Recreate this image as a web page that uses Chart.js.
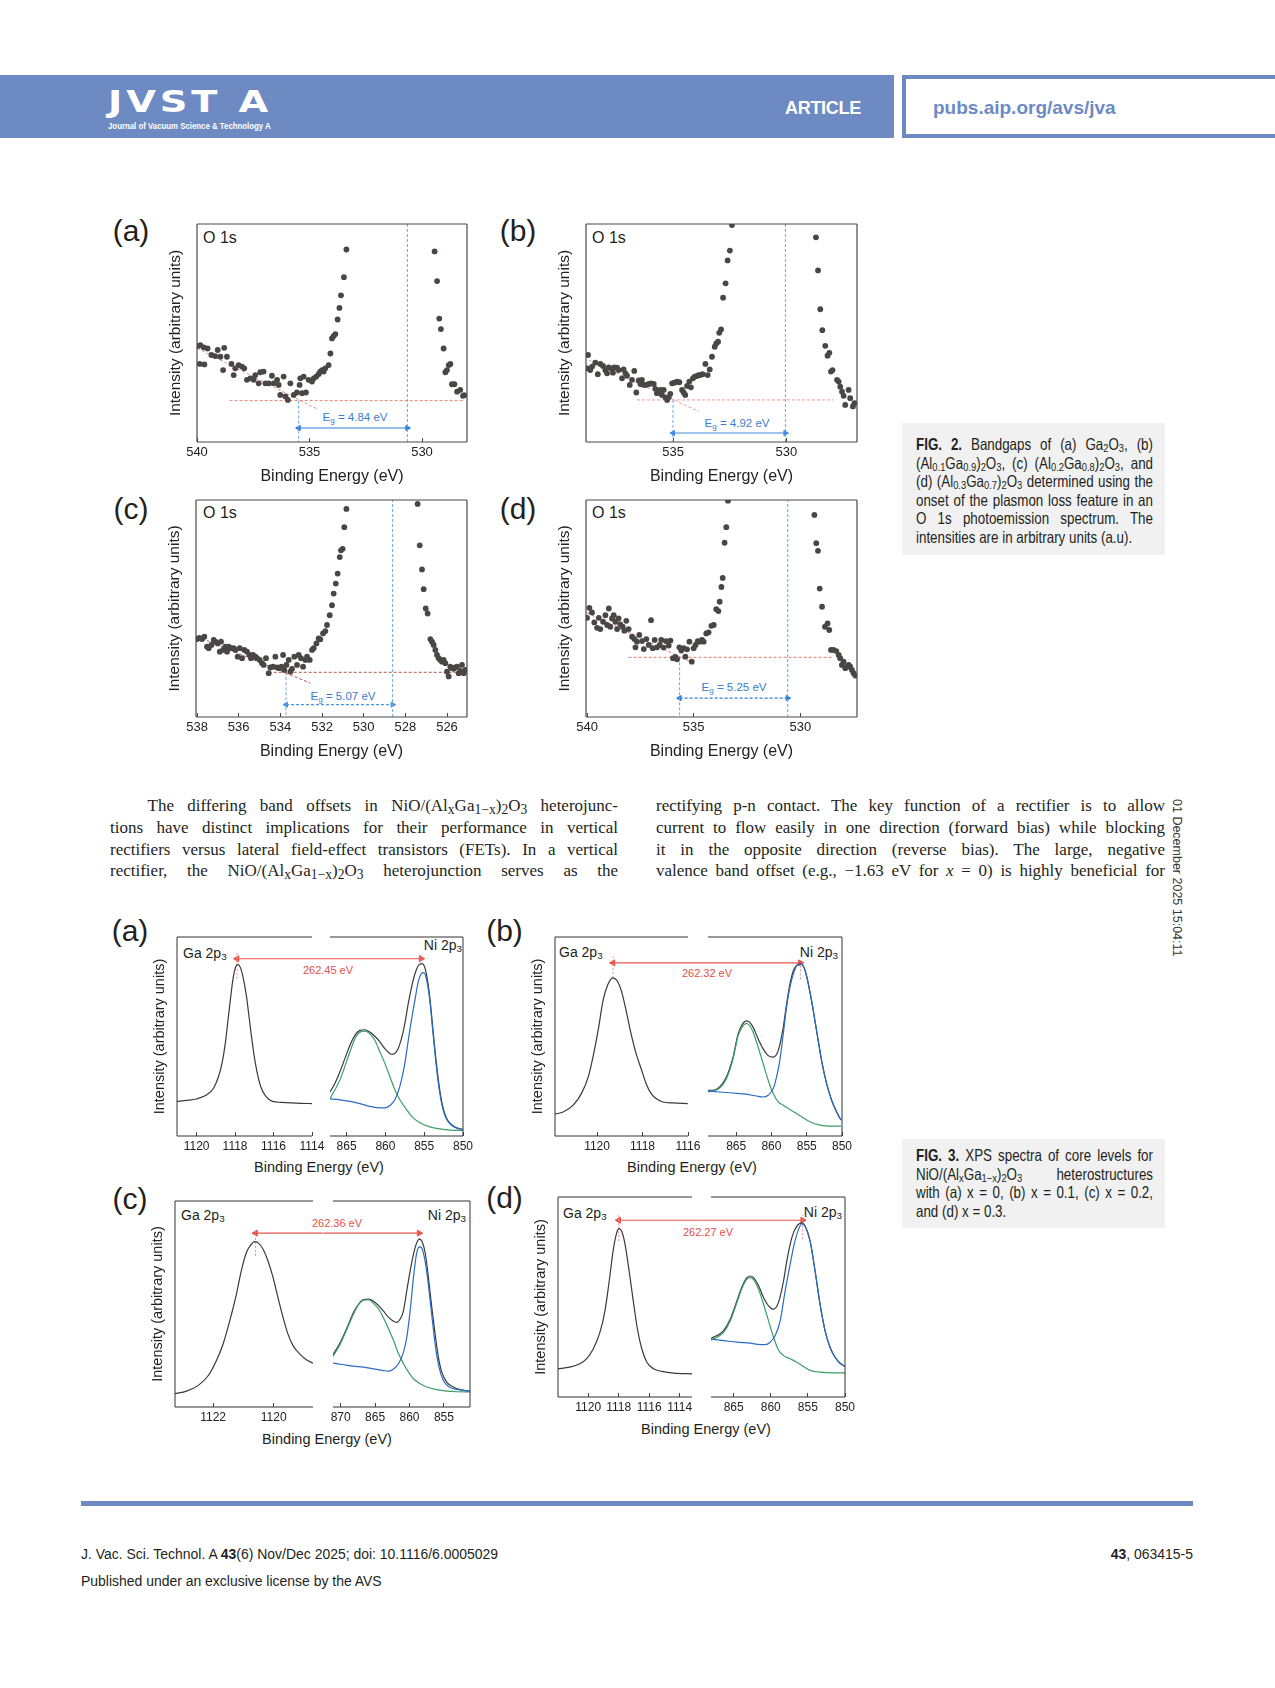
<!DOCTYPE html>
<html>
<head>
<meta charset="utf-8">
<script src="https://cdn.jsdelivr.net/npm/chart.js@4.4.0/dist/chart.umd.min.js"></script>
<style>
body { margin: 0; background: #fff; }
#page { position: relative; width: 1275px; height: 1688px; overflow: hidden; font-family: 'Liberation Sans', Arial, sans-serif; color: #231f20; }
.abs { position: absolute; white-space: nowrap; }
.c { transform: translate(-50%, -50%); }
.m { transform: translateY(-50%); }
.r { transform: translate(-100%, -50%); }
canvas { position: absolute; }
.logo { font-family: 'DejaVu Sans', sans-serif; font-weight: bold; font-size: 30px; color: #fff; letter-spacing: 3px; transform: translateY(-50%) scaleX(1.28); transform-origin: left center; }
.logosub { font-weight: bold; font-size: 9px; color: #fff; transform: translateY(-50%) scaleX(0.87); transform-origin: left center; }
.art { font-size: 18px; font-weight: bold; color: #fff; letter-spacing: -0.3px; }
.url { font-size: 19px; font-weight: bold; color: #6d8ac3; }
.plab { font-size: 30px; }
.o1s { font-size: 16px; }
.eg { font-size: 11.5px; color: #3b7dd0; }
.ev { font-size: 11px; color: #e2504a; }
.core { font-size: 14px; }
.xt { font-size: 14.5px; }
sub { font-size: 70%; vertical-align: -0.25em; line-height: 0; }
.cap { font-size: 16.5px; width: 292.6px; text-align: justify; text-align-last: justify; transform: translateY(-50%) scaleX(0.81); transform-origin: left center; }
.cap.last { text-align-last: left; }
.capbox { background: #f1f1f1; }
.bodyt { font-family: 'Liberation Serif', 'Times New Roman', serif; font-size: 17px; text-align: justify; text-align-last: justify; }
.bodyt sub { font-size: 80%; }
.foot { font-size: 15.5px; transform: translateY(-50%) scaleX(0.9); transform-origin: left center; }
.foot.r { transform: translate(-100%, -50%) scaleX(0.9); transform-origin: right center; }
.stamp { font-size: 12.5px; writing-mode: vertical-rl; color: #333; }
</style>
</head>
<body>
<div id="page">
  <!-- header -->
  <div class="abs" style="left:0;top:75px;width:894px;height:63px;background:#6d8ac3"></div>
  <div class="abs" style="left:902px;top:75px;width:400px;height:63px;border:4px solid #6d8ac3;box-sizing:border-box;background:#fff"></div>
  <div class="abs logo" style="left:108px;top:100.5px">JVST A</div>
  <div class="abs logosub" style="left:108px;top:126px">Journal of Vacuum Science &amp; Technology A</div>
  <div class="abs art m" style="left:785px;top:108px">ARTICLE</div>
  <div class="abs url m" style="left:933px;top:108px">pubs.aip.org/avs/jva</div>

  <!-- FIG. 2 labels -->
  <div class="abs plab c" style="left:131px;top:231px">(a)</div>
  <div class="abs plab c" style="left:518px;top:231px">(b)</div>
  <div class="abs plab c" style="left:131px;top:509px">(c)</div>
  <div class="abs plab c" style="left:518px;top:509px">(d)</div>
  <div class="abs o1s m" style="left:203px;top:238px">O 1s</div>
  <div class="abs o1s m" style="left:592px;top:238px">O 1s</div>
  <div class="abs o1s m" style="left:203px;top:513px">O 1s</div>
  <div class="abs o1s m" style="left:592px;top:513px">O 1s</div>
  <div class="abs eg c" style="left:355px;top:417px">E<sub>g</sub> = 4.84 eV</div>
  <div class="abs eg c" style="left:737px;top:423px">E<sub>g</sub> = 4.92 eV</div>
  <div class="abs eg c" style="left:343px;top:696px">E<sub>g</sub> = 5.07 eV</div>
  <div class="abs eg c" style="left:734px;top:687px">E<sub>g</sub> = 5.25 eV</div>

  <!-- FIG. 2 caption -->
  <div class="abs capbox" style="left:902px;top:423px;width:263px;height:132px"></div>
  <div class="abs cap" style="left:916px;top:444px"><b>FIG. 2.</b> Bandgaps of (a) Ga<sub>2</sub>O<sub>3</sub>, (b)</div>
  <div class="abs cap" style="left:916px;top:462.6px">(Al<sub>0.1</sub>Ga<sub>0.9</sub>)<sub>2</sub>O<sub>3</sub>, (c) (Al<sub>0.2</sub>Ga<sub>0.8</sub>)<sub>2</sub>O<sub>3</sub>, and</div>
  <div class="abs cap" style="left:916px;top:481.2px">(d) (Al<sub>0.3</sub>Ga<sub>0.7</sub>)<sub>2</sub>O<sub>3</sub> determined using the</div>
  <div class="abs cap" style="left:916px;top:499.8px">onset of the plasmon loss feature in an</div>
  <div class="abs cap" style="left:916px;top:518.4px">O 1s photoemission spectrum. The</div>
  <div class="abs cap last" style="left:916px;top:537px">intensities are in arbitrary units (a.u).</div>

  <!-- body text -->
  <div class="abs bodyt m" style="left:147.5px;top:805.5px;width:470.5px">The differing band offsets in NiO/(Al<sub>x</sub>Ga<sub>1−x</sub>)<sub>2</sub>O<sub>3</sub> heterojunc-</div>
  <div class="abs bodyt m" style="left:110px;top:827.6px;width:508px">tions have distinct implications for their performance in vertical</div>
  <div class="abs bodyt m" style="left:110px;top:849.7px;width:508px;word-spacing:-1px">rectifiers versus lateral field-effect transistors (FETs). In a vertical</div>
  <div class="abs bodyt m" style="left:110px;top:871.3px;width:508px">rectifier, the NiO/(Al<sub>x</sub>Ga<sub>1−x</sub>)<sub>2</sub>O<sub>3</sub> heterojunction serves as the</div>
  <div class="abs bodyt m" style="left:656px;top:805.5px;width:509px">rectifying p-n contact. The key function of a rectifier is to allow</div>
  <div class="abs bodyt m" style="left:656px;top:827.6px;width:509px">current to flow easily in one direction (forward bias) while blocking</div>
  <div class="abs bodyt m" style="left:656px;top:849.7px;width:509px">it in the opposite direction (reverse bias). The large, negative</div>
  <div class="abs bodyt m" style="left:656px;top:871.3px;width:509px">valence band offset (e.g., −1.63 eV for <i>x</i> = 0) is highly beneficial for</div>
  <div class="abs stamp" style="left:1170px;top:799px">01 December 2025 15:04:11</div>

  <!-- FIG. 3 labels -->
  <div class="abs plab c" style="left:130px;top:931px">(a)</div>
  <div class="abs plab c" style="left:504.5px;top:931px">(b)</div>
  <div class="abs plab c" style="left:130px;top:1199px">(c)</div>
  <div class="abs plab c" style="left:504.5px;top:1198px">(d)</div>
  <div class="abs core m" style="left:183px;top:953px">Ga 2p<sub>3</sub></div>
  <div class="abs core r" style="left:462px;top:945px">Ni 2p<sub>3</sub></div>
  <div class="abs core m" style="left:559px;top:952px">Ga 2p<sub>3</sub></div>
  <div class="abs core r" style="left:838px;top:952px">Ni 2p<sub>3</sub></div>
  <div class="abs core m" style="left:181px;top:1215px">Ga 2p<sub>3</sub></div>
  <div class="abs core r" style="left:466px;top:1215px">Ni 2p<sub>3</sub></div>
  <div class="abs core m" style="left:563px;top:1213px">Ga 2p<sub>3</sub></div>
  <div class="abs core r" style="left:842px;top:1212px">Ni 2p<sub>3</sub></div>
  <div class="abs ev c" style="left:328px;top:970px">262.45 eV</div>
  <div class="abs ev c" style="left:707px;top:973px">262.32 eV</div>
  <div class="abs ev c" style="left:337px;top:1223px">262.36 eV</div>
  <div class="abs ev c" style="left:708px;top:1232px">262.27 eV</div>
  <div class="abs xt c" style="left:319px;top:1167px">Binding Energy (eV)</div>
  <div class="abs xt c" style="left:692px;top:1167px">Binding Energy (eV)</div>
  <div class="abs xt c" style="left:327px;top:1439px">Binding Energy (eV)</div>
  <div class="abs xt c" style="left:706px;top:1429px">Binding Energy (eV)</div>

  <!-- FIG. 3 caption -->
  <div class="abs capbox" style="left:902px;top:1139px;width:263px;height:89px"></div>
  <div class="abs cap" style="left:916px;top:1155px"><b>FIG. 3.</b> XPS spectra of core levels for</div>
  <div class="abs cap" style="left:916px;top:1173.6px">NiO/(Al<sub>x</sub>Ga<sub>1−x</sub>)<sub>2</sub>O<sub>3</sub> heterostructures</div>
  <div class="abs cap" style="left:916px;top:1192.2px">with (a) x = 0, (b) x = 0.1, (c) x = 0.2,</div>
  <div class="abs cap last" style="left:916px;top:1210.8px">and (d) x = 0.3.</div>

  <!-- footer -->
  <div class="abs" style="left:81px;top:1501px;width:1112px;height:5px;background:#6d8ac3"></div>
  <div class="abs foot" style="left:81px;top:1554px">J. Vac. Sci. Technol. A <b>43</b>(6) Nov/Dec 2025; doi: 10.1116/6.0005029</div>
  <div class="abs foot" style="left:81px;top:1581px">Published under an exclusive license by the AVS</div>
  <div class="abs foot r" style="left:1193px;top:1554px"><b>43</b>, 063415-5</div>
</div>

<script>
// -- Data --
// FIG. 2: O 1s spectra, [binding energy (eV), intensity (% of frame height)]
const o1sA = [
  [539.97,44.0],[539.85,44.4],[539.70,43.4],[539.53,42.9],[539.36,39.9],[539.19,39.4],[539.08,42.2],[538.96,39.1],[538.79,43.2],[538.67,39.1],
  [539.88,35.8],[539.67,35.6],[538.84,33.0],[538.47,35.8],[538.37,30.7],[538.30,33.8],[538.15,35.3],[538.00,34.6],[537.90,33.8],[537.78,28.5],
  [537.63,29.2],[537.48,28.5],[537.41,30.7],[537.26,26.9],[537.19,32.0],[537.04,32.3],[536.96,26.9],[536.81,26.9],[536.67,30.4],[536.59,26.9],
  [536.44,28.5],[536.37,26.2],[536.30,21.6],[536.15,30.0],[536.07,20.9],[535.96,19.3],[535.85,26.9],[535.70,21.6],[535.56,22.7],[535.44,26.2],
  [535.41,29.2],[535.33,22.4],[535.26,30.0],[535.16,22.7],[535.04,28.5],[534.89,27.7],[534.81,29.2],[534.70,30.0],[534.59,31.2],[534.52,32.3],
  [534.44,33.0],[534.37,32.3],[534.30,33.8],[534.15,35.3],[534.07,40.6],[534.00,47.5],[533.93,48.6],[533.85,49.5],[533.75,56.2],[533.67,61.5],
  [533.60,67.3],[533.47,75.6],[533.36,88.3],
  [529.44,87.4],[529.33,73.8],[529.23,56.6],[529.16,51.8],[529.04,42.9],[528.96,32.0],[528.89,33.0],[528.81,35.3],[528.74,35.8],[528.67,26.5],
  [528.56,26.5],[528.44,23.1],[528.30,23.9],[528.18,21.2],[528.12,21.5]
];
const o1sB = [
  [538.75,39.9],[538.79,33.8],[538.65,33.0],[538.57,34.6],[538.43,36.4],[538.32,31.1],[538.21,35.8],[538.09,34.9],[537.99,33.0],[537.91,31.5],
  [537.84,34.2],[537.74,33.8],[537.65,31.8],[537.59,34.2],[537.47,34.1],[537.40,33.0],[537.25,29.2],[537.18,33.3],[537.10,31.5],[537.03,30.4],
  [536.91,26.2],[536.81,28.5],[536.71,32.6],[536.62,22.7],[536.51,28.2],[536.44,26.6],[536.37,28.5],[536.29,26.2],[536.18,26.2],[536.07,26.6],
  [535.97,26.9],[535.85,26.6],[535.78,24.4],[535.71,22.4],[535.63,23.1],[535.56,23.9],[535.49,21.6],[535.41,23.9],[535.34,20.5],[535.26,19.3],
  [535.19,20.5],[535.12,22.1],[535.04,26.9],[534.94,27.2],[534.82,27.7],[534.72,27.4],[534.60,23.9],[534.53,22.7],[534.46,21.6],[534.38,25.7],
  [534.28,27.7],[534.21,25.1],[534.12,29.2],[534.04,30.0],[533.94,30.3],[533.87,30.7],[533.79,30.7],[533.69,31.1],[533.57,35.8],[533.47,30.7],
  [533.38,33.3],[533.28,39.1],[533.16,43.7],[533.09,45.2],[533.01,46.0],[532.96,50.1],[532.88,51.6],[532.79,66.2],[532.68,72.8],[532.59,83.3],
  [532.49,87.8],[532.40,99.5],
  [528.69,93.9],[528.60,78.7],[528.50,60.9],[528.41,51.3],[528.28,44.1],[528.18,39.6],[528.10,40.9],[528.03,32.3],[527.96,33.0],[527.76,28.5],
  [527.69,27.7],[527.62,25.4],[527.54,23.1],[527.47,21.2],[527.40,17.0],[527.25,23.9],[527.18,20.1],[527.06,16.3],[526.99,17.8]
];
const o1sC = [
  [538.00,35.9],[537.89,36.5],[537.76,35.9],[537.65,37.0],[537.52,32.4],[537.44,31.7],[537.31,33.2],[537.20,35.5],[537.12,34.7],[537.01,33.9],
  [536.91,30.1],[536.85,34.7],[536.75,30.9],[536.64,32.4],[536.56,30.1],[536.48,32.4],[536.37,31.7],[536.24,31.7],[536.16,30.9],[536.05,27.8],
  [535.95,31.7],[535.84,27.1],[535.73,30.9],[535.60,30.1],[535.49,28.6],[535.41,27.1],[535.31,28.6],[535.20,27.8],[535.12,27.1],[534.99,26.3],
  [534.88,24.8],[534.80,24.0],[534.69,27.1],[534.56,20.2],[534.48,22.8],[534.35,23.2],[534.24,27.8],[534.16,22.8],[534.05,22.5],[533.95,23.2],
  [533.87,28.6],[533.81,21.7],[533.71,24.0],[533.60,26.3],[533.52,20.9],[533.44,22.2],[533.33,27.8],[533.20,24.0],[533.12,28.6],[533.01,27.1],
  [532.91,23.2],[532.80,26.3],[532.72,27.8],[532.59,26.3],[532.48,30.9],[532.40,31.7],[532.27,33.9],[532.16,36.2],[532.08,35.8],[531.95,38.5],
  [531.84,39.6],[531.76,42.4],[531.63,46.9],[531.52,51.5],[531.44,56.9],[531.34,61.5],[531.25,66.1],[531.15,73.7],[531.09,76.8],[531.01,77.5],
  [530.93,87.5],[530.83,95.9],
  [527.41,98.2],[527.31,79.1],[527.20,68.0],[527.12,58.9],[527.02,50.0],[526.93,47.7],[526.80,35.9],[526.72,34.7],[526.64,33.2],[526.56,30.9],
  [526.48,28.6],[526.40,27.1],[526.32,26.3],[526.24,25.5],[526.16,26.3],[526.08,24.8],[526.00,20.9],[525.92,18.7],[525.84,23.2],[525.76,22.5],
  [525.68,22.2],[525.60,22.9],[525.52,23.2],[525.44,20.2],[525.36,21.3],[525.28,24.0],[525.20,20.2],[525.12,21.7]
];
const o1sD = [
  [540.00,45.7],[539.89,50.3],[539.77,48.2],[539.66,43.6],[539.53,41.1],[539.45,45.7],[539.38,40.5],[539.25,43.9],[539.14,46.9],[539.06,42.4],
  [538.98,50.0],[538.91,41.6],[538.83,45.4],[538.75,46.9],[538.67,43.9],[538.59,40.5],[538.52,45.4],[538.44,42.7],[538.33,41.6],[538.25,39.8],
  [538.16,44.3],[538.05,40.5],[537.89,37.0],[537.78,35.9],[537.66,34.7],[537.73,32.1],[537.55,37.8],[537.42,35.0],[537.34,31.3],[537.22,35.9],
  [537.11,33.2],[537.00,44.6],[536.92,31.7],[536.83,35.5],[536.72,32.1],[536.59,33.2],[536.52,35.5],[536.41,32.0],[536.30,35.0],[536.17,32.9],
  [536.09,35.2],[535.97,27.1],[535.86,27.7],[535.78,26.6],[535.67,32.1],[535.58,30.6],[535.47,31.7],[535.39,27.8],[535.31,31.2],[535.20,34.7],
  [535.09,25.5],[535.00,31.7],[534.91,33.2],[534.81,35.0],[534.72,34.7],[534.61,35.5],[534.53,34.7],[534.41,38.5],[534.30,39.0],[534.17,42.0],
  [534.06,42.4],[533.94,49.7],[533.84,48.8],[533.78,53.1],[533.70,59.9],[533.64,64.1],[533.55,80.3],[533.47,87.5],[533.39,99.7],
  [529.34,93.1],[529.25,80.1],[529.17,76.6],[529.09,59.2],[528.98,50.8],[528.84,41.6],[528.72,43.1],[528.64,40.1],[528.56,30.9],[528.44,30.9],
  [528.31,30.4],[528.20,28.6],[528.13,27.1],[528.05,24.0],[527.97,25.5],[527.89,22.5],[527.81,23.2],[527.73,24.0],[527.66,23.2],[527.58,21.7],
  [527.50,20.2],[527.42,19.1]
];
const fig2Ranges = [[528, 540], [526.88, 538.84], [525.04, 538.05], [527.34, 540.05]];
const fig2Steps = [5, 5, 2, 5];
const fig2BaseY = [19.0, 19.3, 20.6, 27.5];
const fig2BaseFrom = [538.55, 536.59, 534.56, 538.05];
const fig2BaseTo = [528.1, 527.91, 525.04, 528.44];
const fig2Slope = [
  [[539.97, 42.9], [534.67, 15.2]],
  [[538.72, 37.6], [533.87, 14.0]],
  [[537.97, 37.0], [532.56, 15.6]],
  [[540.0, 48.0], [535.16, 25.5]]
];
const fig2Onset = [535.48, 535.0, 533.73, 535.66];
const fig2Edge = [530.65, 530.04, 528.61, 530.59];
const fig2ArrowY = [6.4, 4.1, 5.7, 8.7];

// FIG. 3: Ga 2p3 and Ni 2p3 core levels, [binding energy (eV), intensity (% of frame height)]
const gaA = [[1121.02,17.4],[1120.53,17.9],[1120.00,18.6],[1119.47,20.7],[1119.12,24.0],[1118.86,29.9],[1118.68,36.5],[1118.51,46.4],[1118.39,56.4],[1118.25,68.0],[1118.11,78.8],[1117.98,84.6],[1117.86,86.2],[1117.72,84.6],[1117.58,79.6],[1117.40,69.7],[1117.23,56.4],[1117.05,43.1],[1116.88,33.2],[1116.67,24.9],[1116.40,19.9],[1116.05,17.4],[1115.61,16.9],[1115.09,16.6],[1114.56,16.4],[1114.00,16.3]];
const niEnvA = [[867.14,22.1],[866.50,26.5],[865.86,32.3],[865.21,39.0],[864.57,45.6],[863.93,50.6],[863.29,53.1],[862.64,53.4],[862.00,52.2],[861.36,50.1],[860.71,47.3],[860.07,43.9],[859.43,41.5],[859.08,41.0],[858.78,41.5],[858.36,43.9],[857.93,48.9],[857.50,56.4],[857.07,66.3],[856.64,74.6],[856.21,81.3],[855.79,85.4],[855.36,86.6],[855.06,85.9],[854.71,81.3],[854.28,69.7],[853.86,53.1],[853.43,36.5],[853.00,23.2],[852.57,14.1],[852.14,9.1],[851.50,5.8],[850.86,4.1],[850.00,3.3]];
const niSatA = [[867.14,18.7],[865.86,28.2],[864.57,42.3],[863.93,48.9],[863.29,52.2],[862.64,52.7],[862.00,51.4],[861.36,48.1],[860.71,42.3],[860.07,36.5],[859.43,29.9],[858.78,23.2],[858.14,18.2],[857.28,13.3],[856.43,9.1],[855.36,6.3],[854.28,4.6],[853.00,3.6],[851.50,3.0],[850.00,2.8]];
const niMainA = [[867.14,18.7],[865.86,18.2],[864.57,17.4],[863.29,16.3],[862.00,14.9],[860.71,14.1],[860.07,14.1],[859.43,15.3],[858.78,18.2],[858.14,24.9],[857.50,36.5],[856.86,53.1],[856.21,68.0],[855.79,77.1],[855.36,81.6],[855.06,82.1],[854.71,78.8],[854.28,68.0],[853.86,51.4],[853.43,34.8],[853.00,21.6],[852.57,13.3],[852.14,8.6],[851.50,5.5],[850.86,4.1],[850.00,3.3]];

const gaB = [[1121.85,11.0],[1121.49,12.1],[1121.05,15.5],[1120.69,21.3],[1120.39,29.6],[1120.15,41.3],[1119.93,54.6],[1119.74,67.9],[1119.52,76.2],[1119.30,79.5],[1119.11,77.9],[1118.93,72.9],[1118.72,62.9],[1118.50,51.2],[1118.28,41.3],[1118.06,33.8],[1117.84,26.3],[1117.62,21.3],[1117.40,18.8],[1117.11,17.1],[1116.67,16.6],[1116.01,16.3]];
const niEnvB = [[868.99,23.0],[868.28,23.0],[867.33,24.6],[866.38,29.6],[865.44,39.6],[864.73,51.2],[864.11,56.2],[863.54,57.9],[863.07,57.1],[862.59,54.6],[861.88,48.8],[861.17,43.8],[860.46,40.4],[859.75,39.6],[859.04,42.9],[858.33,54.6],[857.86,66.2],[857.39,76.2],[856.91,82.9],[856.44,85.7],[855.97,86.5],[855.49,85.4],[855.02,80.4],[854.31,67.9],[853.60,52.9],[852.89,37.9],[852.18,26.3],[851.47,18.0],[850.76,12.1],[850.14,8.0]];
const niSatB = [[868.99,22.1],[868.28,22.6],[867.33,24.1],[866.38,28.8],[865.44,38.8],[864.73,50.4],[864.11,54.9],[863.54,56.6],[863.07,55.4],[862.59,52.1],[861.88,44.6],[861.17,36.3],[860.46,28.0],[859.75,21.3],[859.04,17.1],[858.33,15.5],[857.39,13.3],[856.44,11.3],[855.49,9.2],[854.55,7.2],[853.13,5.5],[851.70,5.0],[850.14,5.0]];
const niMainB = [[868.99,22.6],[867.33,22.1],[865.44,21.6],[863.54,21.0],[862.12,20.1],[861.17,19.6],[860.46,20.5],[859.75,23.8],[859.28,29.6],[858.81,37.9],[858.33,51.2],[857.86,64.6],[857.39,74.5],[856.91,81.2],[856.44,85.4],[855.97,86.5],[855.49,85.4],[855.02,80.4],[854.31,67.9],[853.60,52.9],[852.89,37.9],[852.18,26.3],[851.47,18.0],[850.76,12.1],[850.14,8.0]];

const gaC = [[1123.26,6.5],[1122.88,7.7],[1122.49,10.5],[1122.16,15.3],[1121.89,22.6],[1121.67,30.6],[1121.45,41.9],[1121.23,54.8],[1121.07,66.1],[1120.90,75.0],[1120.74,79.0],[1120.63,80.3],[1120.52,79.8],[1120.35,76.6],[1120.19,71.0],[1120.02,62.9],[1119.86,53.2],[1119.69,43.5],[1119.53,35.5],[1119.36,29.8],[1119.14,25.8],[1118.92,22.9],[1118.70,21.3]];
const niEnvC = [[871.11,25.5],[870.29,29.8],[869.57,34.7],[868.84,40.3],[868.12,46.0],[867.39,50.0],[866.67,52.1],[865.94,52.4],[865.22,51.3],[864.49,49.2],[863.77,46.5],[863.04,43.5],[862.32,41.6],[861.84,41.1],[861.35,42.7],[860.87,46.8],[860.39,56.5],[859.90,66.1],[859.42,74.2],[858.94,79.8],[858.55,81.5],[858.21,80.6],[857.73,75.0],[857.25,62.9],[856.76,48.4],[856.28,35.5],[855.80,24.2],[855.31,16.9],[854.59,12.1],[853.62,9.7],[852.66,8.4],[851.21,7.7]];
const niSatC = [[871.11,24.5],[870.05,30.6],[869.08,37.9],[868.12,45.2],[867.39,49.7],[866.67,51.9],[865.94,52.1],[865.22,50.3],[864.49,47.6],[863.77,43.2],[863.04,37.9],[862.32,32.3],[861.59,25.8],[860.87,21.0],[860.14,16.9],[859.42,13.7],[858.45,11.3],[857.49,9.7],[856.04,8.4],[854.59,7.7],[853.14,7.4],[851.21,7.3]];
const niMainC = [[871.11,21.3],[869.57,20.5],[868.12,19.8],[866.67,19.4],[865.22,18.5],[863.77,17.7],[863.04,17.4],[862.32,18.4],[861.59,21.0],[860.87,26.6],[860.39,33.9],[859.90,46.8],[859.42,62.9],[859.03,73.4],[858.70,77.4],[858.45,77.7],[858.07,75.8],[857.58,67.7],[857.10,54.8],[856.62,40.3],[856.14,27.4],[855.65,18.5],[855.07,12.9],[854.35,10.0],[853.38,8.7],[852.17,8.1],[851.21,7.7]];

const gaD = [[1121.98,14.1],[1121.21,14.9],[1120.55,16.6],[1120.11,19.1],[1119.67,24.0],[1119.23,32.3],[1118.90,43.1],[1118.62,58.0],[1118.35,73.8],[1118.13,82.1],[1117.98,84.2],[1117.80,82.9],[1117.58,76.3],[1117.30,62.2],[1117.03,47.3],[1116.77,34.0],[1116.48,24.0],[1116.15,17.4],[1115.71,14.1],[1115.16,12.8],[1114.40,11.9],[1113.19,11.6]];
const niEnvD = [[868.05,29.4],[867.24,30.7],[866.35,33.2],[865.45,39.0],[864.55,48.1],[863.88,55.1],[863.21,59.7],[862.76,60.5],[862.32,59.7],[861.64,55.6],[860.97,49.8],[860.30,45.6],[859.63,43.9],[858.96,47.3],[858.28,58.0],[857.84,68.0],[857.17,79.6],[856.49,85.4],[855.82,87.1],[855.37,85.4],[854.70,77.9],[854.03,63.0],[853.36,46.4],[852.69,33.2],[852.02,24.9],[851.34,19.9],[850.67,16.9],[850.00,15.3]];
const niSatD = [[868.05,28.5],[867.24,29.9],[866.35,32.3],[865.45,38.1],[864.55,47.3],[863.88,54.4],[863.21,58.9],[862.76,59.7],[862.32,58.7],[861.64,53.9],[860.97,46.4],[860.30,38.1],[859.63,29.9],[858.96,23.5],[858.28,20.7],[857.39,19.1],[856.49,17.4],[855.60,15.3],[854.70,13.3],[853.36,12.4],[851.57,12.1],[850.00,12.1]];
const niMainD = [[868.05,28.9],[866.35,28.2],[864.55,27.4],[862.76,26.9],[861.42,26.2],[860.75,26.2],[860.08,27.4],[859.40,30.7],[858.73,38.1],[858.06,53.1],[857.39,66.3],[856.85,76.3],[856.27,83.7],[855.82,86.6],[855.37,85.4],[854.70,77.9],[854.03,63.0],[853.36,46.4],[852.69,33.2],[852.02,24.9],[851.34,19.9],[850.67,16.9],[850.00,15.3]];

const fig3GaRanges = [[1114, 1121.02], [1116, 1121.85], [1118.70, 1123.26], [1113.19, 1121.98]];
const fig3NiRanges = [[850, 867.14], [850, 868.99], [851.21, 871.11], [850, 868.05]];
const fig3GaPeak = [1117.9, 1119.3, 1120.6, 1118.0];
const fig3NiPeak = [855.4, 855.9, 858.6, 855.7];
const fig3ArrowY = [89.1, 87.0, 84.4, 88.4];
const fig3GaBreak = [1113.53, 1115.56, 1118.38, 1112.56];
const fig3NiBreak = [868.3, 870.41, 872.52, 869.33];
const fig3GaMark = [[79, 92], [79.5, 90.3], [73.4, 85.5], [77.9, 91.2]];
const fig3NiMark = [[86.2, 91.2], [78.7, 86.5], [81, 84.4], [78.8, 91.2]];

// -- Layout (pixel frames of each plot) --
const fig2Boxes = [
  {l: 197, t: 223, r: 467, b: 442},
  {l: 586, t: 223, r: 857, b: 442},
  {l: 196, t: 499, r: 467, b: 717},
  {l: 586, t: 499, r: 857, b: 717}
];
const fig3LeftBoxes = [
  {l: 177, t: 936, r: 312, b: 1136},
  {l: 555, t: 936, r: 688, b: 1136},
  {l: 175, t: 1200, r: 313, b: 1407},
  {l: 558, t: 1196, r: 692, b: 1397}
];
const fig3RightBoxes = [
  {l: 330, t: 936, r: 463, b: 1136},
  {l: 708, t: 936, r: 842, b: 1136},
  {l: 333, t: 1200, r: 470, b: 1407},
  {l: 711, t: 1196, r: 845, b: 1397}
];

const FONT = "'Liberation Sans', Arial, sans-serif";
Chart.defaults.font.family = FONT;
Chart.defaults.color = '#222';

// Draws the plot frame on the chosen sides of the chart area
const framePlugin = {
  id: 'frame',
  afterDatasetsDraw(chart, args, opts) {
    const {ctx, chartArea: a} = chart;
    const sides = opts.sides || 'ltrb';
    ctx.save();
    ctx.strokeStyle = opts.color || '#444';
    ctx.lineWidth = opts.width || 1.2;
    ctx.beginPath();
    if (sides.includes('l')) { ctx.moveTo(a.left, a.top); ctx.lineTo(a.left, a.bottom); }
    if (sides.includes('r')) { ctx.moveTo(a.right, a.top); ctx.lineTo(a.right, a.bottom); }
    if (sides.includes('t')) { ctx.moveTo(a.left, a.top); ctx.lineTo(a.right, a.top); }
    if (sides.includes('b')) { ctx.moveTo(a.left, a.bottom); ctx.lineTo(a.right, a.bottom); }
    ctx.stroke();
    ctx.restore();
  }
};
Chart.register(framePlugin);

const pts = arr => arr.map(p => ({x: p[0], y: p[1]}));

function guide(arr, color, dash, width) {
  return {data: pts(arr), showLine: true, borderColor: color, borderWidth: width || 1,
          borderDash: dash || [], pointRadius: 0, fill: false, clip: false};
}

function arrowLine(arr, color, dash, radii, rot) {
  return {data: pts(arr), showLine: true, borderColor: color, borderWidth: 1.1, borderDash: dash || [],
          pointStyle: 'triangle', pointRadius: radii, pointRotation: rot,
          pointBackgroundColor: color, pointBorderColor: color, pointBorderWidth: 1, clip: false};
}

function curve(arr, color) {
  return {data: pts(arr), showLine: true, borderColor: color, borderWidth: 1.2, pointRadius: 0,
          tension: 0.4, cubicInterpolationMode: 'monotone', fill: false};
}

// Creates a canvas around the frame box and draws one chart in it
function makePlot(box, o) {
  const left = box.l - o.yW - o.padL;
  const top = box.t - o.padT;
  const w = (box.r - box.l) + o.yW + o.padL + o.padR;
  const h = (box.b - box.t) + o.xH + o.padT + o.padB;
  const canvas = document.createElement('canvas');
  canvas.width = w;
  canvas.height = h;
  canvas.style.left = left + 'px';
  canvas.style.top = top + 'px';
  canvas.style.width = w + 'px';
  canvas.style.height = h + 'px';
  document.getElementById('page').appendChild(canvas);

  return new Chart(canvas.getContext('2d'), {
    type: 'scatter',
    data: {datasets: o.datasets},
    options: {
      responsive: false,
      animation: false,
      devicePixelRatio: 1,
      layout: {padding: {left: o.padL, right: o.padR, top: o.padT, bottom: o.padB}},
      plugins: {
        legend: {display: false},
        tooltip: {enabled: false},
        frame: {sides: o.sides, color: o.frameColor, width: o.frameWidth}
      },
      scales: {
        x: {
          type: 'linear',
          position: 'bottom',
          reverse: true,
          min: o.xMin,
          max: o.xMax,
          grid: {display: true, drawOnChartArea: false, drawTicks: true, tickLength: -4, color: '#444', lineWidth: 1},
          border: {display: false},
          ticks: {stepSize: o.step, includeBounds: false, autoSkip: false, maxRotation: 0,
                  padding: o.tickPad, color: '#222', font: {size: o.tickSize},
                  callback: v => String(v)},
          title: {display: !!o.xTitle, text: o.xTitle, padding: 0, color: '#222', font: {size: 16}},
          afterFit: s => { s.height = o.xH; }
        },
        y: {
          type: 'linear',
          min: 0,
          max: 100,
          display: !!o.yTitle,
          grid: {display: false},
          border: {display: false},
          ticks: {display: false},
          title: {display: !!o.yTitle, text: o.yTitle, padding: 0, color: '#222', font: {size: o.yTitleSize}},
          afterFit: s => { s.width = o.yW; }
        }
      }
    }
  });
}

// -- FIG. 2 --
const redGuide = ['#e8887d', '#ec9a92', '#b5584d', '#e0776c'];
const blueGuide = '#6aa7e0';
const arrowColors = ['#2f7ed8', '#3d8be0', '#4a94e2', '#2f7ed8'];
const arrowDash = [[], [], [3, 2], [3, 2]];
[o1sA, o1sB, o1sC, o1sD].forEach((set, i) => {
  const y0 = fig2BaseY[i];
  makePlot(fig2Boxes[i], {
    yW: 31, xH: 44, padL: 4, padR: 16, padT: 4, padB: 2,
    xMin: fig2Ranges[i][0], xMax: fig2Ranges[i][1], step: fig2Steps[i],
    tickSize: 13, tickPad: 6.7,
    xTitle: 'Binding Energy (eV)', yTitle: 'Intensity (arbitrary units)', yTitleSize: 15.5,
    sides: 'ltrb', frameColor: '#4a4a4a', frameWidth: 1.2,
    datasets: [
      {data: pts(set), showLine: false, pointRadius: 2.9, pointBackgroundColor: '#4a4646', pointBorderWidth: 0},
      guide([[fig2BaseFrom[i], y0], [fig2BaseTo[i], y0]], redGuide[i], [3, 2]),
      guide(fig2Slope[i], redGuide[i], [3, 2]),
      guide([[fig2Onset[i], y0], [fig2Onset[i], 0]], blueGuide, [3, 2]),
      guide([[fig2Edge[i], 0], [fig2Edge[i], 100]], blueGuide, [3, 2]),
      arrowLine([[fig2Onset[i], fig2ArrowY[i]], [fig2Edge[i], fig2ArrowY[i]]], arrowColors[i], arrowDash[i], [3, 3], [-90, 90])
    ]
  });
});

// -- FIG. 3 --
const BLACK = '#3a3a3a', GREEN = '#3c9e68', BLUE = '#2a6cc4', RED = '#e8554e';
const gaSets = [gaA, gaB, gaC, gaD];
const niEnv = [niEnvA, niEnvB, niEnvC, niEnvD];
const niSat = [niSatA, niSatB, niSatC, niSatD];
const niMain = [niMainA, niMainB, niMainC, niMainD];

gaSets.forEach((ga, i) => {
  const ay = fig3ArrowY[i];
  makePlot(fig3LeftBoxes[i], {
    yW: 26, xH: 24, padL: 4, padR: 26, padT: 4, padB: 2,
    xMin: fig3GaRanges[i][0], xMax: fig3GaRanges[i][1], step: 2,
    tickSize: 12, tickPad: 7.5,
    yTitle: 'Intensity (arbitrary units)', yTitleSize: 14.5,
    sides: 'ltb', frameColor: '#333', frameWidth: 1,
    datasets: [
      curve(ga, BLACK),
      guide([[fig3GaPeak[i], fig3GaMark[i][0]], [fig3GaPeak[i], fig3GaMark[i][1]]], '#ef8a84', [2, 2]),
      arrowLine([[fig3GaPeak[i], ay], [fig3GaBreak[i], ay]], RED, [], [3.5, 0], [-90, 0])
    ]
  });
  makePlot(fig3RightBoxes[i], {
    yW: 0, xH: 24, padL: 26, padR: 24, padT: 4, padB: 2,
    xMin: fig3NiRanges[i][0], xMax: fig3NiRanges[i][1], step: 5,
    tickSize: 12, tickPad: 7.5,
    sides: 'trb', frameColor: '#333', frameWidth: 1,
    datasets: [
      curve(niMain[i], BLUE),
      curve(niSat[i], GREEN),
      curve(niEnv[i], BLACK),
      guide([[fig3NiPeak[i], fig3NiMark[i][0]], [fig3NiPeak[i], fig3NiMark[i][1]]], '#ef8a84', [2, 2]),
      arrowLine([[fig3NiBreak[i], ay], [fig3NiPeak[i], ay]], RED, [], [0, 3.5], [0, 90])
    ]
  });
});
</script>
</body>
</html>
